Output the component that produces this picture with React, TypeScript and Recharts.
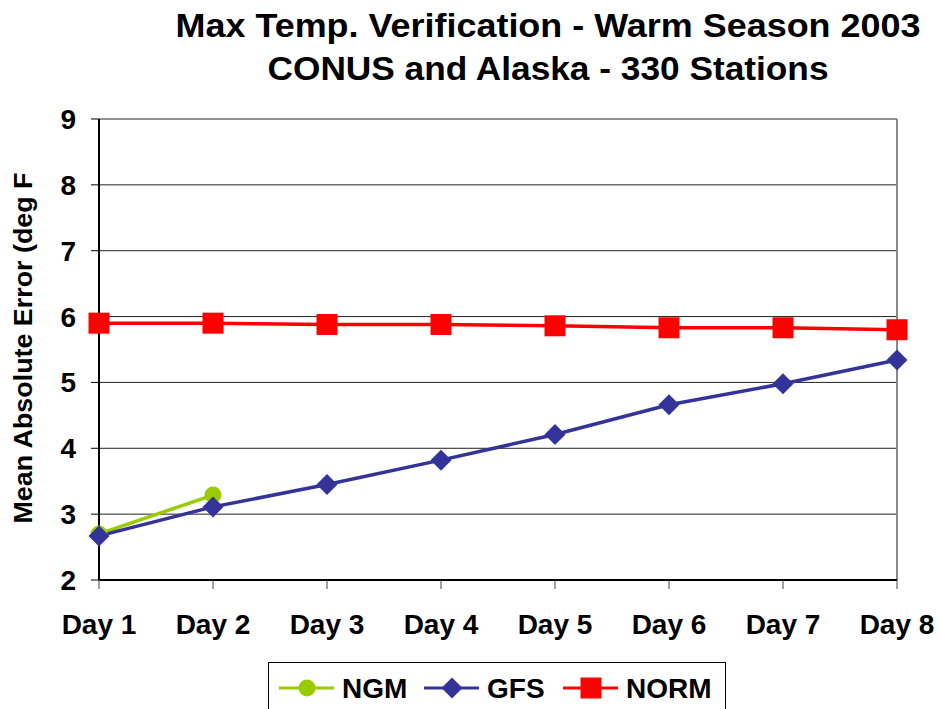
import React from 'react';
import { LineChart, Line, XAxis, YAxis, CartesianGrid, ReferenceLine } from 'recharts';

const days = ['Day 1', 'Day 2', 'Day 3', 'Day 4', 'Day 5', 'Day 6', 'Day 7', 'Day 8'];
const ngm = [2.7, 3.29, null, null, null, null, null, null];
const gfs = [2.67, 3.11, 3.45, 3.82, 4.21, 4.66, 4.98, 5.34];
const norm = [5.9, 5.9, 5.88, 5.88, 5.86, 5.83, 5.83, 5.8];
const yTicks = [2, 3, 4, 5, 6, 7, 8, 9];

const titleLines = ['Max Temp. Verification - Warm Season 2003', 'CONUS and Alaska - 330 Stations'];
const yLabel = 'Mean Absolute Error (deg F';

const series = [
    { key: 'NGM', color: '#99CC00', shape: 'circle' },
    { key: 'GFS', color: '#333399', shape: 'diamond' },
    { key: 'NORM', color: '#FF0000', shape: 'square' },
];

const data = days.map((day, i) => ({ day, NGM: ngm[i], GFS: gfs[i], NORM: norm[i] }));

const FONT = '"Liberation Sans", Arial, sans-serif';

const Marker = ({ shape, color, cx, cy }: any) => {
    if (shape === 'circle') return <circle cx={cx} cy={cy} r={8.5} fill={color} />;
    if (shape === 'diamond') {
        const r = 10.5;
        return <polygon points={`${cx},${cy - r} ${cx + r},${cy} ${cx},${cy + r} ${cx - r},${cy}`} fill={color} />;
    }
    return <rect x={cx - 10.5} y={cy - 10.5} width={21} height={21} fill={color} />;
};

const makeDot = (shape: string, color: string) => (props: any) => {
    const { cx, cy, index } = props;
    if (cx == null || cy == null || props.value == null) return <g key={`e-${shape}-${index}`} />;
    return (
        <g key={`${shape}-${index}`}>
            <Marker shape={shape} color={color} cx={cx} cy={cy} />
        </g>
    );
};

// legend box sits below the plot, partly cut off by the bottom edge
const ChartLegend = () => (
    <div
        style={{
            position: 'absolute',
            left: 268,
            top: 662,
            width: 458,
            height: 60,
            border: '1.5px solid #000',
            boxSizing: 'border-box',
            background: '#fff',
        }}
    >
        <svg width={458} height={60}>
            {series.map((s, i) => {
                const x0 = [10, 155, 294][i];
                return (
                    <g key={s.key}>
                        <line x1={x0} x2={x0 + 55} y1={25} y2={25} stroke={s.color} strokeWidth={3} />
                        <Marker shape={s.shape} color={s.color} cx={x0 + 28} cy={25} />
                        <text x={x0 + 63} y={35} fontSize={28} fontWeight='bold' fontFamily={FONT} fill='#000'>
                            {s.key}
                        </text>
                    </g>
                );
            })}
        </svg>
    </div>
);

export default function App() {
    return (
        <div style={{ position: 'absolute', left: 0, top: 0, width: 941, height: 709, background: '#fff', fontFamily: FONT, overflow: 'hidden' }}>
            <LineChart
                width={941}
                height={709}
                data={data}
                margin={{ top: 119, right: 44, bottom: 99, left: 0 }}
                style={{ position: 'absolute', left: 0, top: 0 }}
            >
                <CartesianGrid vertical={false} stroke='#222' strokeWidth={1} />
                <ReferenceLine x='Day 8' stroke='#888' strokeWidth={2} />
                <XAxis
                    dataKey='day'
                    height={30}
                    stroke='#000'
                    strokeWidth={2}
                    tickSize={9}
                    tickMargin={25}
                    tickLine={{ stroke: '#444', strokeWidth: 1 }}
                    tick={{ fontSize: 28, fontWeight: 'bold', fill: '#000', fontFamily: FONT }}
                    interval={0}
                />
                <YAxis
                    width={99}
                    domain={[2, 9]}
                    ticks={yTicks}
                    interval={0}
                    stroke='#000'
                    strokeWidth={2}
                    tickSize={8}
                    tickMargin={15}
                    tickLine={{ stroke: '#000', strokeWidth: 1 }}
                    tick={{ fontSize: 28, fontWeight: 'bold', fill: '#000', fontFamily: FONT }}
                    label={{
                        content: () => (
                            <text
                                x={32}
                                y={348}
                                transform='rotate(-90 32 348)'
                                textAnchor='middle'
                                fontSize={26}
                                fontWeight='bold'
                                fontFamily={FONT}
                                fill='#000'
                                textLength={351}
                                lengthAdjust='spacingAndGlyphs'
                            >
                                {yLabel}
                            </text>
                        ),
                    }}
                />
                {series.map((s) => (
                    <Line
                        key={s.key}
                        dataKey={s.key}
                        stroke={s.color}
                        strokeWidth={3.5}
                        dot={makeDot(s.shape, s.color)}
                        activeDot={false}
                        isAnimationActive={false}
                        connectNulls={false}
                    />
                ))}
            </LineChart>
            <svg width={941} height={100} style={{ position: 'absolute', left: 0, top: 0 }}>
                {titleLines.map((t, i) => (
                    <text
                        key={t}
                        x={548}
                        y={37 + i * 43}
                        textAnchor='middle'
                        fontSize={34}
                        fontWeight='bold'
                        fontFamily={FONT}
                        fill='#000'
                        textLength={i === 0 ? 745 : 561}
                        lengthAdjust='spacingAndGlyphs'
                    >
                        {t}
                    </text>
                ))}
            </svg>
            <ChartLegend />
        </div>
    );
}
